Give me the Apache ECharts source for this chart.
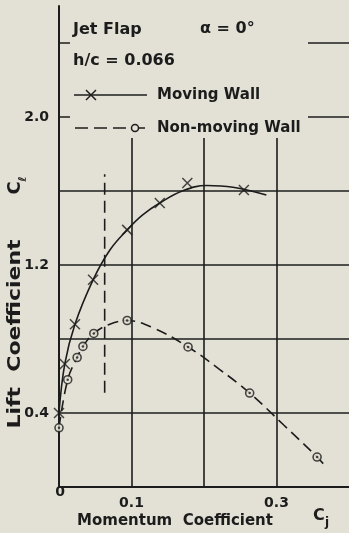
<!DOCTYPE html>
<html><head><meta charset="utf-8">
<script src="https://cdn.jsdelivr.net/npm/echarts@6/dist/echarts.min.js"></script>
<style>html,body{margin:0;padding:0;background:#e3e1d5}#c{width:349px;height:533px}</style>
</head><body><div id="c"></div>
<script>
// Moving wall: measured points (x markers)
const movingCj = [0, 0.008, 0.022, 0.047, 0.094, 0.139, 0.177, 0.255];
const movingCl = [0.40, 0.665, 0.88, 1.12, 1.39, 1.535, 1.643, 1.605];
// Moving wall: faired curve (traced)
const movingCurveCj = [0, 0.008, 0.022, 0.047, 0.07, 0.094, 0.115, 0.139, 0.17, 0.204, 0.24, 0.286];
const movingCurveCl = [0.40, 0.665, 0.88, 1.12, 1.28, 1.39, 1.47, 1.535, 1.60, 1.63, 1.62, 1.578];
// Non-moving wall: measured points (circles)
const nonMovingCj = [0, 0.012, 0.025, 0.033, 0.048, 0.094, 0.178, 0.263, 0.356];
const nonMovingCl = [0.32, 0.58, 0.70, 0.76, 0.83, 0.90, 0.757, 0.508, 0.162];
// Non-moving wall: faired dashed curve (traced)
const nonMovingCurveCj = [0, 0.012, 0.025, 0.033, 0.048, 0.07, 0.094, 0.13, 0.178, 0.22, 0.263, 0.31, 0.356, 0.368];
const nonMovingCurveCl = [0.32, 0.58, 0.70, 0.76, 0.83, 0.88, 0.90, 0.86, 0.757, 0.64, 0.508, 0.335, 0.162, 0.11];
// vertical dashed marker line
const markerLineCj = [0.063, 0.063];
const markerLineCl = [0.51, 1.69];
// tick labels
const xTickLabels = [0.1, 0.3];
const yTickLabels = [0.4, 1.2, 2.0];

const INK = '#1c1c1c', BG = '#e3e1d5';
const F = '"DejaVu Sans", sans-serif';
const zip = (a, b) => a.map((v, i) => [v, b[i]]);
const txt = (text, x, y, size, extra) => Object.assign({type: 'text', z: 20,
  style: {text: text, x: x, y: y, font: 'bold ' + size + 'px ' + F, fill: INK,
    textVerticalAlign: 'middle', verticalAlign: 'middle'}}, extra || {});

const chart = echarts.init(document.getElementById('c'), null, {renderer: 'canvas'});
chart.setOption({
  backgroundColor: BG,
  animation: false,
  grid: {left: 59, top: 6, right: 0, height: 481, outerBoundsMode: 'none'},
  xAxis: {
    type: 'value', min: 0, max: 0.4, interval: 0.1,
    axisLine: {show: true, lineStyle: {color: INK, width: 2}},
    axisTick: {show: false},
    splitLine: {show: true, showMaxLine: false, lineStyle: {color: INK, width: 1.6}},
    axisLabel: {customValues: xTickLabels, formatter: v => v.toFixed(1), color: INK,
      fontFamily: F, fontWeight: 'bold', fontSize: 14, margin: 9}
  },
  yAxis: {
    type: 'value', min: 0, max: 2.6, interval: 0.4,
    axisLine: {show: true, lineStyle: {color: INK, width: 2}},
    axisTick: {show: false},
    splitLine: {show: true, showMaxLine: false, lineStyle: {color: INK, width: 1.6}},
    axisLabel: {customValues: yTickLabels, formatter: v => v.toFixed(1), color: INK,
      fontFamily: F, fontWeight: 'bold', fontSize: 14, margin: 10}
  },
  series: [
    {type: 'line', data: zip(movingCurveCj, movingCurveCl), smooth: 0.4, symbol: 'none',
      lineStyle: {color: INK, width: 1.6}, z: 3},
    {type: 'line', data: zip(nonMovingCurveCj, nonMovingCurveCl), smooth: 0.4, symbol: 'none',
      lineStyle: {color: INK, width: 1.6, type: [11, 6]}, z: 3},
    {type: 'line', data: zip(markerLineCj, markerLineCl), symbol: 'none',
      lineStyle: {color: INK, width: 1.6, type: [12, 6]}, z: 3},
    {type: 'scatter', data: zip(movingCj, movingCl), symbol: 'path://M0,0L10,10M10,0L0,10',
      symbolSize: 10, itemStyle: {color: INK, borderColor: INK, borderWidth: 1.5}, z: 4},
    {type: 'scatter', data: zip(nonMovingCj, nonMovingCl), symbol: 'circle', symbolSize: 8,
      itemStyle: {color: BG, borderColor: INK, borderWidth: 1.6}, z: 4},
    {type: 'scatter', data: zip(nonMovingCj, nonMovingCl), symbol: 'circle', symbolSize: 2.5,
      itemStyle: {color: INK}, z: 5}
  ],
  graphic: [
    {type: 'rect', z: 10, shape: {x: 70, y: 0, width: 238, height: 138}, style: {fill: BG}},
    txt('Jet Flap', 73, 30, 16),
    txt('α = 0°', 200, 29, 16),
    txt('h/c = 0.066', 73, 61, 16),
    {type: 'line', z: 20, shape: {x1: 74, y1: 95, x2: 147, y2: 95}, style: {stroke: INK, lineWidth: 1.6}},
    {type: 'line', z: 20, shape: {x1: 86, y1: 90, x2: 96, y2: 100}, style: {stroke: INK, lineWidth: 1.5}},
    {type: 'line', z: 20, shape: {x1: 96, y1: 90, x2: 86, y2: 100}, style: {stroke: INK, lineWidth: 1.5}},
    txt('Moving Wall', 157, 95, 15),
    {type: 'line', z: 20, shape: {x1: 75, y1: 128, x2: 147, y2: 128}, style: {stroke: INK, lineWidth: 1.6, lineDash: [13, 6]}},
    {type: 'circle', z: 21, shape: {cx: 135, cy: 128, r: 3.5}, style: {fill: BG, stroke: INK, lineWidth: 1.5}},
    txt('Non-moving Wall', 157, 128, 15),
    {type: 'text', z: 20, style: {text: '0', x: 60, y: 492, font: 'bold 14px ' + F, fill: INK, textAlign: 'center', align: 'center', textVerticalAlign: 'middle', verticalAlign: 'middle'}},
    {type: 'text', z: 20, style: {text: 'Momentum  Coefficient', x: 175, y: 521, font: 'bold 15px ' + F, fill: INK, textAlign: 'center', align: 'center', textVerticalAlign: 'middle', verticalAlign: 'middle'}},
    txt('C', 313, 516, 16),
    txt('j', 325, 523, 12),
    {type: 'text', z: 20, x: 15, y: 334, rotation: Math.PI / 2, scaleX: 1.22,
      style: {text: 'Lift  Coefficient', x: 0, y: 0, font: 'bold 18px ' + F, fill: INK, textAlign: 'center', align: 'center', textVerticalAlign: 'middle', verticalAlign: 'middle'}},
    {type: 'text', z: 20, x: 15, y: 188, rotation: Math.PI / 2,
      style: {text: 'C', x: 0, y: 0, font: 'bold 18px ' + F, fill: INK, textAlign: 'center', align: 'center', textVerticalAlign: 'middle', verticalAlign: 'middle'}},
    {type: 'text', z: 20, x: 23, y: 179, rotation: Math.PI / 2,
      style: {text: 'ℓ', x: 0, y: 0, font: 'bold 11px ' + F, fill: INK, textAlign: 'center', align: 'center', textVerticalAlign: 'middle', verticalAlign: 'middle'}}
  ]
});
</script></body></html>
